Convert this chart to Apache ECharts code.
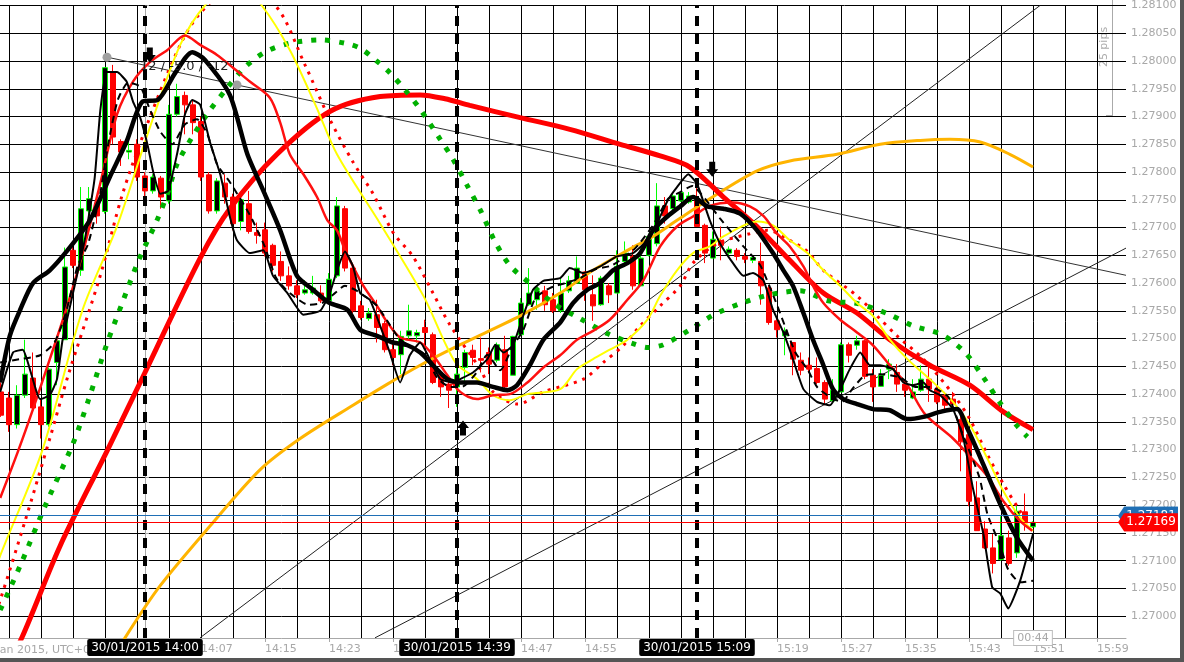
<!DOCTYPE html>
<html><head><meta charset="utf-8">
<script src="https://cdn.jsdelivr.net/npm/echarts@6/dist/echarts.min.js"></script>
<style>html,body{margin:0;padding:0;background:#fff;}#chart{width:1184px;height:662px;}</style>
</head><body><div id="chart"></div>
<script>
// ---- time axis: minutes relative to 30/01/2015 14:00 ----
const gridMinutes = [-17,-13,-9,-5,-1,3,7,11,15,19,23,27,31,35,39,43,47,51,55,59,63,67,71,75,79,83,87,91,95,99,103,107,111,115,119];
const labelMinutes = [7,15,23,31,39,47,55,63,71,79,87,95,103,111,119];
const priceTicks = [1.27000,1.27050,1.27100,1.27150,1.27200,1.27250,1.27300,1.27350,1.27400,1.27450,1.27500,1.27550,1.27600,1.27650,1.27700,1.27750,1.27800,1.27850,1.27900,1.27950,1.28000,1.28050,1.28100];

// ---- M1 candles, first candle at 13:42 (minute -18) ----
const candleStart = -18;
const opens = [1.27404,1.27393,1.27345,1.27398,1.27429,1.27377,1.27345,1.27457,1.27498,1.27659,1.27623,1.27730,1.27743,1.27729,1.27980,1.27855,1.27836,1.27850,
1.27793,1.27766,1.27789,1.27748,1.27904,1.27938,1.27921,1.27891,1.27795,1.27730,1.27780,1.27755,1.27711,1.27743,1.27691,1.27696,1.27668,1.27639,1.27613,1.27595,1.27582,1.27582,1.27582,1.27568,1.27613,1.27734,1.27627,1.27559,1.27536,1.27543,1.27527,1.27480,1.27471,1.27505,1.27505,1.27520,1.27507,1.27436,1.27418,1.27413,1.27448,1.27479,1.27464,1.27475,1.27461,1.27480,1.27434,1.27507,1.27561,1.27570,1.27586,1.27570,1.27550,1.27586,1.27600,1.27620,1.27579,1.27561,1.27595,1.27582,1.27639,1.27648,1.27595,1.27650,1.27671,1.27739,1.27734,1.27748,1.27746,1.27748,1.27704,1.27645,1.27675,1.27654,1.27659,1.27648,1.27641,1.27639,1.27591,1.27532,1.27505,1.27493,1.27461,1.27452,1.27446,1.27421,1.27388,1.27404,1.27489,1.27488,1.27496,1.27434,1.27414,1.27445,1.27439,1.27418,1.27393,1.27407,1.27427,1.27409,1.27398,1.27391,1.27354,1.27327,1.27213,1.27157,1.27123,1.27102,1.27141,1.27114,1.27188,1.27161];
const closes = [1.27362,1.27345,1.27398,1.27436,1.27375,1.27345,1.27445,1.27496,1.27629,1.27632,1.27734,1.27752,1.27721,1.27988,1.27863,1.27836,1.27839,1.27791,
1.27766,1.27791,1.27755,1.27904,1.27936,1.27921,1.27889,1.27791,1.27730,1.27784,1.27755,1.27707,1.27750,1.27693,1.27686,1.27654,1.27632,1.27613,1.27595,1.27579,1.27588,1.27591,1.27568,1.27607,1.27739,1.27627,1.27550,1.27538,1.27546,1.27520,1.27480,1.27466,1.27504,1.27514,1.27511,1.27511,1.27421,1.27413,1.27407,1.27436,1.27475,1.27466,1.27461,1.27454,1.27489,1.27413,1.27504,1.27564,1.27582,1.27586,1.27561,1.27550,1.27582,1.27604,1.27627,1.27588,1.27559,1.27609,1.27579,1.27630,1.27654,1.27595,1.27645,1.27684,1.27739,1.27721,1.27757,1.27763,1.27757,1.27702,1.27654,1.27679,1.27668,1.27661,1.27648,1.27643,1.27646,1.27595,1.27529,1.27516,1.27514,1.27463,1.27443,1.27445,1.27421,1.27391,1.27407,1.27489,1.27470,1.27496,1.27432,1.27413,1.27434,1.27454,1.27418,1.27407,1.27404,1.27427,1.27409,1.27386,1.27380,1.27382,1.27314,1.27207,1.27154,1.27123,1.27095,1.27145,1.27095,1.27189,1.27168,1.27169];
const lows = [1.27359,1.27332,1.27338,1.27393,1.27368,1.27320,1.27341,1.27416,1.27498,1.27627,1.27613,1.27720,1.27707,1.27725,1.27850,1.27811,1.27823,1.27784,
1.27746,1.27761,1.27734,1.27743,1.27900,1.27868,1.27868,1.27784,1.27725,1.27725,1.27743,1.27695,1.27695,1.27689,1.27671,1.27648,1.27621,1.27604,1.27588,1.27573,1.27579,1.27579,1.27564,1.27564,1.27609,1.27621,1.27546,1.27534,1.27532,1.27493,1.27475,1.27452,1.27436,1.27498,1.27493,1.27488,1.27418,1.27395,1.27375,1.27377,1.27421,1.27452,1.27439,1.27436,1.27457,1.27409,1.27434,1.27505,1.27559,1.27552,1.27550,1.27546,1.27546,1.27582,1.27600,1.27568,1.27532,1.27559,1.27564,1.27582,1.27636,1.27588,1.27595,1.27648,1.27666,1.27707,1.27730,1.27746,1.27743,1.27702,1.27636,1.27645,1.27641,1.27648,1.27641,1.27636,1.27636,1.27561,1.27525,1.27502,1.27470,1.27434,1.27434,1.27439,1.27418,1.27380,1.27386,1.27404,1.27457,1.27480,1.27427,1.27386,1.27413,1.27427,1.27404,1.27395,1.27391,1.27404,1.27386,1.27382,1.27371,1.27377,1.27261,1.27198,1.27154,1.27121,1.27077,1.27100,1.27091,1.27105,1.27154,1.27159];
const highs = [1.27421,1.27404,1.27416,1.27498,1.27475,1.27391,1.27448,1.27505,1.27664,1.27675,1.27773,1.27773,1.27752,1.27989,1.27993,1.27859,1.27854,1.27859,
1.27800,1.27796,1.27793,1.27921,1.27959,1.27945,1.27930,1.27900,1.27800,1.27789,1.27796,1.27761,1.27755,1.27766,1.27709,1.27709,1.27671,1.27657,1.27630,1.27605,1.27605,1.27613,1.27596,1.27618,1.27755,1.27739,1.27632,1.27568,1.27555,1.27570,1.27532,1.27498,1.27514,1.27561,1.27516,1.27534,1.27511,1.27443,1.27425,1.27450,1.27480,1.27489,1.27502,1.27484,1.27493,1.27505,1.27505,1.27573,1.27627,1.27591,1.27595,1.27582,1.27609,1.27613,1.27648,1.27621,1.27614,1.27613,1.27600,1.27659,1.27675,1.27668,1.27666,1.27689,1.27780,1.27755,1.27764,1.27764,1.27764,1.27779,1.27707,1.27693,1.27702,1.27666,1.27663,1.27654,1.27650,1.27673,1.27596,1.27538,1.27520,1.27493,1.27475,1.27466,1.27466,1.27425,1.27427,1.27493,1.27493,1.27505,1.27498,1.27445,1.27445,1.27463,1.27454,1.27425,1.27427,1.27452,1.27452,1.27416,1.27404,1.27404,1.27368,1.27329,1.27243,1.27171,1.27148,1.27180,1.27154,1.27200,1.27221,1.27171];

// ---- indicator lines, read as [minute, price] ----
const maRedThick = [[-17.5,1.26904],[-15.4,1.26961],[-10.6,1.27127],[-4.8,1.27296],[0,1.27439],[6.9,1.27645],[10.6,1.27734],[16.5,1.27832],[23.1,1.27909],[29.4,1.27936],[34.4,1.27939],[37.5,1.27932],[40.6,1.27920],[46.9,1.27898],[53.1,1.27877],[59.4,1.27850],[64.4,1.27829],[68.1,1.27809],[72.3,1.27755],[76.5,1.27702],[80.6,1.27641],[84.8,1.27582],[89,1.27546],[93.1,1.27498],[98.1,1.27452],[103.1,1.27416],[107.3,1.27368],[111,1.27336]];
const maOrange = [[-4.4,1.26912],[-2.5,1.26961],[1.9,1.27055],[8.1,1.27162],[14.4,1.27264],[19.4,1.27320],[26,1.27380],[30.3,1.27418],[34.4,1.27452],[39.4,1.27489],[46.9,1.27541],[51.9,1.27582],[56,1.27623],[60.3,1.27659],[63.5,1.27684],[66.5,1.27713],[70.6,1.27752],[76.5,1.27802],[80.6,1.27820],[86.5,1.27832],[91.9,1.27850],[96.9,1.27857],[100.6,1.27859],[104.4,1.27854],[108.1,1.27832],[111,1.27809]];
const maYellow = [[-19.4,1.27055],[-18.1,1.27109],[-12.9,1.27296],[-7.8,1.27552],[-3.5,1.27702],[0.6,1.27880],[4.4,1.28029],[7.5,1.28100],[11.5,1.28145],[14.6,1.28100],[18.1,1.28020],[21.3,1.27921],[24,1.27832],[29.4,1.27707],[34.8,1.27577],[38.8,1.27457],[41.5,1.27427],[43.5,1.27398],[45.6,1.27389],[47.8,1.27400],[51.9,1.27409],[54,1.27445],[56,1.27463],[58.1,1.27480],[60.3,1.27498],[62.8,1.27534],[64.4,1.27577],[66.5,1.27623],[68.5,1.27654],[70.6,1.27666],[72.3,1.27684],[76.5,1.27711],[78.5,1.27704],[80.6,1.27677],[82.8,1.27654],[84.8,1.27623],[86.9,1.27595],[89,1.27564],[91,1.27541],[93.1,1.27498],[95.3,1.27463],[98.1,1.27427],[101,1.27386],[103.1,1.27345],[105.3,1.27284],[107.3,1.27225],[109.4,1.27177],[111,1.27154]];
const maRedDots = [[-19.4,1.26975],[-18.1,1.27029],[-15,1.27171],[-11.9,1.27320],[-9.6,1.27434],[-5.6,1.27613],[-2.8,1.27761],[0.6,1.27898],[4.4,1.28029],[6.9,1.28086],[11.3,1.28136],[16.3,1.28100],[20,1.27993],[23.1,1.27895],[26,1.27818],[28.5,1.27761],[31.1,1.27689],[33.4,1.27650],[36,1.27582],[38.1,1.27525],[41.9,1.27445],[43.5,1.27404],[46.6,1.27382],[49.8,1.27404],[54.8,1.27427],[57.3,1.27457],[59.8,1.27488],[61.9,1.27523],[64.4,1.27559],[66.9,1.27595],[68.5,1.27636],[71.5,1.27671],[75.6,1.27689],[77.8,1.27695],[80.6,1.27677],[82.8,1.27657],[84.8,1.27623],[89,1.27577],[91.5,1.27541],[94,1.27505],[97.3,1.27463],[101,1.27400],[103.1,1.27355],[105.3,1.27291],[107.3,1.27238],[109.4,1.27189],[110.6,1.27166]];
const maGreenDots = [[-18.1,1.27011],[-15.6,1.27091],[-12.5,1.27198],[-9,1.27311],[-7.1,1.27388],[-4.8,1.27489],[-2.8,1.27566],[-0.8,1.27641],[1.5,1.27713],[2.8,1.27761],[4,1.27814],[5.9,1.27863],[7.9,1.27907],[10.3,1.27952],[12.5,1.27989],[15,1.28016],[18.1,1.28032],[21.9,1.28038],[25,1.28032],[26.9,1.28023],[28.8,1.28002],[30.6,1.27979],[32.5,1.27948],[34.4,1.27913],[36.9,1.27859],[38.5,1.27823],[40.3,1.27775],[42,1.27729],[43.6,1.27679],[45.6,1.27632],[48.4,1.27596],[51.3,1.27561],[54.4,1.27536],[57.8,1.27509],[61,1.27491],[62.9,1.27484],[64.8,1.27489],[68.1,1.27516],[71.1,1.27543],[74.6,1.27564],[78.1,1.27579],[81.9,1.27586],[85.4,1.27568],[89.1,1.27563],[92.8,1.27545],[96,1.27523],[99.6,1.27507],[102.5,1.27475],[104.8,1.27430],[106.8,1.27386],[109,1.27343],[110.3,1.27323]];
const maRedThin = [[-18.1,1.27213],[-15.9,1.27296],[-14,1.27373],[-11.9,1.27463],[-9.8,1.27555],[-7.9,1.27648],[-5.6,1.27779],[-3.5,1.27904],[-1.5,1.27963],[0.6,1.27998],[2.8,1.28020],[5,1.28046],[6.9,1.28029],[9,1.28011],[11,1.27988],[13.1,1.27963],[15.6,1.27934],[16.9,1.27889],[18.1,1.27832],[19.8,1.27796],[21.5,1.27755],[22.8,1.27713],[24,1.27695],[25,1.27659],[26,1.27630],[27.3,1.27595],[29,1.27559],[30.3,1.27529],[31.9,1.27502],[34.4,1.27493],[36,1.27470],[37.8,1.27434],[39.4,1.27404],[41.5,1.27391],[43.5,1.27398],[45.6,1.27400],[47.8,1.27421],[49.8,1.27448],[51.9,1.27470],[54,1.27498],[56,1.27514],[58.1,1.27534],[60.3,1.27570],[62.3,1.27605],[64.4,1.27666],[66.5,1.27702],[68.5,1.27720],[70.6,1.27739],[73.5,1.27745],[75.6,1.27738],[77.3,1.27721],[79,1.27689],[80.6,1.27666],[82.3,1.27630],[83.5,1.27595],[84.8,1.27564],[86.9,1.27534],[89,1.27511],[91,1.27488],[93.1,1.27452],[95.3,1.27416],[97.5,1.27364],[101,1.27320],[103.1,1.27288],[105.3,1.27252],[107.3,1.27207],[109.4,1.27171],[110.9,1.27154]];
const maBlackThick = [[-18.1,1.27421],[-16.9,1.27505],[-15.6,1.27552],[-14,1.27600],[-11.9,1.27623],[-9.8,1.27657],[-6.9,1.27713],[-4.4,1.27791],[-2.3,1.27855],[-0.3,1.27927],[1.6,1.27930],[3.8,1.27979],[5.9,1.28016],[7.5,1.28002],[10.6,1.27939],[12.8,1.27832],[14.8,1.27766],[16.9,1.27695],[19,1.27613],[21,1.27588],[23.1,1.27564],[25.3,1.27552],[26.9,1.27516],[29,1.27505],[31,1.27493],[32.8,1.27488],[34.4,1.27475],[36,1.27452],[37.8,1.27427],[39.4,1.27421],[41.5,1.27421],[43.5,1.27413],[45.3,1.27407],[46.5,1.27416],[48.1,1.27452],[49.8,1.27498],[51.9,1.27529],[53.5,1.27564],[55.3,1.27588],[56.9,1.27600],[58.5,1.27623],[60.3,1.27636],[61.9,1.27654],[63.5,1.27695],[65.3,1.27720],[66.9,1.27738],[68.5,1.27755],[70.3,1.27738],[72.3,1.27734],[74.4,1.27725],[76.5,1.27695],[78.5,1.27654],[79.8,1.27623],[81,1.27595],[82.3,1.27546],[83.5,1.27498],[84.8,1.27452],[86,1.27409],[87.3,1.27391],[89,1.27382],[91,1.27373],[93.1,1.27371],[95.3,1.27355],[97.3,1.27359],[99.4,1.27368],[101.5,1.27373],[102.8,1.27338],[104.8,1.27273],[106.9,1.27202],[109,1.27141],[111,1.27100]];
const maBlackThin = [[-18.1,1.27404],[-16.5,1.27475],[-15.3,1.27480],[-13.1,1.27391],[-11.9,1.27398],[-11,1.27427],[-10.3,1.27498],[-9,1.27582],[-7.5,1.27680],[-6.3,1.27788],[-5.6,1.27909],[-4.8,1.27980],[-3.5,1.27980],[-2.3,1.27963],[-1.5,1.27927],[-0.6,1.27898],[0.3,1.27850],[1,1.27802],[1.9,1.27761],[2.9,1.27766],[4,1.27832],[5,1.27904],[5.9,1.27930],[6.9,1.27921],[8.1,1.27855],[9.4,1.27796],[10.6,1.27720],[11.5,1.27677],[13.1,1.27654],[14.8,1.27659],[16,1.27613],[17.8,1.27582],[19.8,1.27543],[21.9,1.27550],[23.1,1.27582],[24,1.27623],[25,1.27657],[26,1.27630],[26.9,1.27582],[28.1,1.27570],[29.4,1.27523],[30.6,1.27475],[31.9,1.27421],[33.1,1.27470],[34.4,1.27493],[35.6,1.27463],[36.9,1.27427],[38.5,1.27421],[39.4,1.27427],[41,1.27439],[42.8,1.27463],[43.8,1.27489],[44.8,1.27475],[46,1.27488],[47.1,1.27534],[48.5,1.27588],[49.8,1.27604],[51.9,1.27609],[53.1,1.27627],[54.8,1.27618],[56.9,1.27630],[59,1.27648],[61,1.27654],[62.8,1.27677],[64,1.27707],[65.3,1.27748],[66.5,1.27773],[67.9,1.27796],[69,1.27779],[70.6,1.27713],[71.9,1.27671],[73.5,1.27636],[74.8,1.27613],[76,1.27618],[77.3,1.27605],[78.5,1.27552],[79.8,1.27511],[81,1.27463],[82.3,1.27409],[84,1.27386],[85.6,1.27380],[86.9,1.27409],[88.1,1.27445],[89.4,1.27475],[90.6,1.27452],[91.9,1.27452],[93.5,1.27445],[94.8,1.27421],[96,1.27416],[97.3,1.27421],[98.1,1.27407],[99.4,1.27398],[101,1.27373],[102.3,1.27320],[103.5,1.27230],[104.8,1.27148],[105.9,1.27052],[106.9,1.27041],[107.9,1.27014],[109.4,1.27064],[111,1.27148]];
const maBlackDashed = [[-18.1,1.27457],[-15.6,1.27463],[-13.1,1.27470],[-11.3,1.27493],[-9.9,1.27546],[-8.4,1.27632],[-7.1,1.27671],[-5.6,1.27761],[-4.6,1.27850],[-3.4,1.27930],[-2.1,1.27961],[-0.6,1.27954],[0.6,1.27913],[1.9,1.27873],[3.4,1.27850],[5,1.27886],[6.5,1.27895],[7.8,1.27868],[9,1.27814],[10.6,1.27782],[13.1,1.27723],[14.9,1.27668],[16.4,1.27609],[18.1,1.27582],[20.4,1.27561],[22.1,1.27564],[23.5,1.27579],[25,1.27595],[26.5,1.27586],[27.8,1.27573],[29,1.27559],[30.6,1.27525],[31.9,1.27498],[33.5,1.27484],[35,1.27471],[36.5,1.27430],[38.1,1.27413],[39.6,1.27413],[41.3,1.27436],[42.8,1.27471],[44.4,1.27443],[45.9,1.27484],[47.3,1.27516],[48.8,1.27573],[50.6,1.27591],[52.5,1.27600],[54.4,1.27609],[56.3,1.27625],[58.4,1.27632],[61.3,1.27663],[63.5,1.27704],[65.4,1.27752],[66.9,1.27764],[68.4,1.27775],[70,1.27752],[71.9,1.27716],[74.8,1.27666],[76.9,1.27632],[78.8,1.27568],[81.3,1.27475],[82.8,1.27445],[84,1.27413],[85.6,1.27395],[87.1,1.27386],[88.4,1.27409],[90,1.27434],[91.9,1.27436],[94.4,1.27430],[96.3,1.27413],[98.1,1.27413],[100.4,1.27395],[102.1,1.27332],[104.3,1.27250],[105.3,1.27184],[106.9,1.27127],[107.9,1.27084],[109.4,1.27061],[111,1.27064]];

// ---- drawn objects ----
const trendA = [[-4.75,1.28007],[122.625,1.27614]];
const trendB = [[6.875,1.26961],[111.875,1.28100]];
const trendC = [[28.75,1.26961],[122.625,1.27663]];
const trendAnchors = [[-4.75,1.28007],[11.5,1.27957]];
const eventMinutes = [0,39,69];
const eventLabels = ['30/01/2015 14:00','30/01/2015 14:39','30/01/2015 15:09'];
const downArrows = [[0.6,1.28011],[70.9,1.27805]];
const upArrows = [[39.75,1.27339]];
const askPrice = 1.27181, bidPrice = 1.27169;
const lastBarMinute = 111, barTimer = '00:44';

const FONT = 'DejaVu Sans';
const Y_MIN = 1.269607, Y_MAX = 1.281, X_MIN = -18.125, X_MAX = 122.625;
const AX = '#a8a8a8';
function hhmm(t){const m=14*60+Math.round(t);return Math.floor(m/60)+':'+String(m%60).padStart(2,'0');}

const candleData = opens.map((o,i)=>[candleStart+i,o,closes[i],lows[i],highs[i]]);

function line(name,data,color,width,type,smooth,extra){
  return Object.assign({name,type:'line',data,symbol:'none',smooth:smooth,silent:true,z:3,
    lineStyle:{color,width,type:type||'solid',cap:'butt'}},extra||{});
}
const arrowPath='path://M3,0 L9,0 L9,7 L12,7 L6,14 L0,7 L3,7 Z';
const tagPath='path://M0,9 L6,0 L60,0 L60,18 L6,18 Z';
function priceTag(price,color){
  return {coord:[X_MAX,price],symbol:tagPath,symbolSize:[60,18],symbolOffset:[22,0],itemStyle:{color},
    label:{show:true,position:'inside',offset:[3,0],formatter:price.toFixed(5),color:'#fff',fontSize:12,fontFamily:FONT,
      backgroundColor:color,padding:[3,2,3,2]}};
}

const series = [
  line('trendA',trendA,'#333',1,'solid',false,{z:1}),
  line('trendB',trendB,'#222',1,'solid',false,{z:1}),
  line('trendC',trendC,'#222',1,'solid',false,{z:1}),
  {name:'price',type:'candlestick',data:candleData,encode:{x:0,y:[1,2,3,4]},barWidth:5,silent:true,z:2,
   itemStyle:{color:'#000',color0:'#ff0000',borderColor:'#00ff00',borderColor0:'#ff0000',borderWidth:1}},
  line('maOrange',maOrange,'#ffb400',3,'solid',0.3),
  line('maRedThick',maRedThick,'#ff0000',5,'solid',0.3),
  line('maGreenDots',maGreenDots,'#00b000',5,[5,9],0.3),
  line('maRedDots',maRedDots,'#ff0000',3,[3,6],0.3),
  line('maYellow',maYellow,'#ffff00',2,'solid',0.3),
  line('maRedThin',maRedThin,'#ff1010',2.5,'solid',0.3),
  line('maBlackDashed',maBlackDashed,'#000',2,[7,5],0.2),
  line('maBlackThin',maBlackThin,'#000',2,'solid',0.15,{
    markLine:{silent:true,symbol:['none','none'],animation:false,precision:6,
      data:[{yAxis:askPrice,lineStyle:{color:'#1f6fb5',width:1,type:'solid'},label:{show:false}}]},
    markPoint:{silent:true,animation:false,data:[priceTag(askPrice,'#1f6fb5')]}
  }),
  line('maBlackThick',maBlackThick,'#000',4.5,'solid',0.25,{z:4,
    markLine:{silent:true,symbol:['none','none'],animation:false,precision:6,
      data:[
        ...eventMinutes.map((m,i)=>({xAxis:m,lineStyle:{color:'#000',width:4,type:[10,8]},
          label:{show:true,position:'start',distance:1,formatter:eventLabels[i],color:'#fff',backgroundColor:'#000',
            padding:[3,4,2,4],borderRadius:2,fontSize:12,fontFamily:FONT}})),
        {yAxis:bidPrice,lineStyle:{color:'#ff0000',width:1,type:'solid'},label:{show:false}}
      ]},
    markPoint:{silent:true,animation:false,data:[
      ...downArrows.map(c=>({coord:c,symbol:arrowPath,symbolSize:[12,15],itemStyle:{color:'#000'},label:{show:false}})),
      ...upArrows.map(c=>({coord:c,symbol:arrowPath,symbolRotate:180,symbolSize:[12,15],itemStyle:{color:'#000'},label:{show:false}})),
      ...trendAnchors.map(c=>({coord:c,symbol:'circle',symbolSize:9,itemStyle:{color:'#a0a0a0'},label:{show:false}})),
      priceTag(bidPrice,'#ff0000'),
      {coord:[lastBarMinute,Y_MIN],symbol:'circle',symbolSize:1,itemStyle:{color:'rgba(0,0,0,0)'},
        label:{show:true,position:'inside',formatter:barTimer,color:'#a8a8a8',backgroundColor:'#fff',borderColor:'#bbb',borderWidth:1,padding:[2,3,1,3],fontSize:11,fontFamily:FONT}}
    ]}
  })
];

const option = {
  animation:false,
  backgroundColor:'#fff',
  textStyle:{fontFamily:FONT},
  grid:{left:0,right:58,top:0,bottom:24,containLabel:false},
  xAxis:[{type:'value',min:X_MIN,max:X_MAX,
    axisLine:{show:true,onZero:false,lineStyle:{color:AX,width:1}},
    axisTick:{show:false,customValues:gridMinutes},
    axisLabel:{show:true,customValues:labelMinutes,formatter:v=>hhmm(v),align:'left',margin:6,color:AX,fontSize:11,fontFamily:FONT},
    splitLine:{show:true,lineStyle:{color:'#000',width:1}}},
   {type:'value',min:X_MIN,max:X_MAX,position:'bottom',
    axisLine:{show:false},axisTick:{show:true,customValues:labelMinutes,length:4,lineStyle:{color:AX}},
    axisLabel:{show:false},splitLine:{show:false}}],
  yAxis:{type:'value',position:'right',min:Y_MIN,max:Y_MAX,scale:true,
    axisLine:{show:true,lineStyle:{color:AX,width:1}},
    axisTick:{show:true,customValues:priceTicks,length:4,lineStyle:{color:AX}},
    axisLabel:{show:true,customValues:priceTicks,formatter:v=>v.toFixed(5),margin:5,color:AX,fontSize:11,fontFamily:FONT},
    splitLine:{show:true,lineStyle:{color:'#000',width:1}}},
  series,
  graphic:[
    {type:'text',x:-21,y:650,silent:true,style:{text:'30 Jan 2015, UTC+0',fill:AX,font:'11px "DejaVu Sans"',verticalAlign:'middle'}},
    {type:'line',silent:true,shape:{x1:1112.5,y1:0,x2:1112.5,y2:115.5},style:{stroke:'#aaa',lineWidth:1}},
    {type:'line',silent:true,shape:{x1:1106,y1:115.5,x2:1113,y2:115.5},style:{stroke:'#aaa',lineWidth:1}},
    {type:'text',x:1104,y:47,rotation:Math.PI/2,silent:true,style:{text:'25 pips',fill:'#aaa',font:'11px "DejaVu Sans"',align:'center',verticalAlign:'middle'}},
    {type:'text',x:140,y:67,silent:true,z:100,style:{text:'12 / -5.0 / -12°',fill:'#222',font:'13px "DejaVu Sans"',verticalAlign:'middle'}},
    {type:'rect',silent:true,shape:{x:1180,y:0,width:4,height:662},style:{fill:'#555'}},
    {type:'rect',silent:true,shape:{x:0,y:658,width:1184,height:4},style:{fill:'#555'}}
  ]
};
const chart = echarts.init(document.getElementById('chart'),null,{renderer:'canvas'});
chart.setOption(option);
</script></body></html>
